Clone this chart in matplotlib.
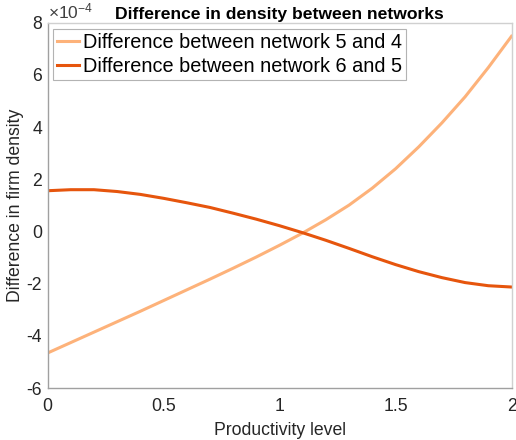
import numpy as np
import matplotlib
matplotlib.use("Agg")
import matplotlib.pyplot as plt
from matplotlib.ticker import FuncFormatter, MultipleLocator

plt.rcParams['font.family'] = ['Liberation Sans', 'DejaVu Sans']
plt.rcParams['mathtext.fontset'] = 'custom'
plt.rcParams['mathtext.rm'] = 'Liberation Sans'
plt.rcParams['mathtext.it'] = 'Liberation Sans'

x = [0.0, 0.1, 0.2, 0.3, 0.4, 0.5, 0.6, 0.7, 0.8, 0.9, 1.0,
     1.1, 1.2, 1.3, 1.4, 1.5, 1.6, 1.7, 1.8, 1.9, 2.0]
# values in units of 1e-4
diff_5_4 = [-4.66, -4.26, -3.86, -3.46, -3.06, -2.65, -2.24, -1.83, -1.41, -0.98, -0.53,
            -0.06, 0.45, 1.01, 1.66, 2.40, 3.24, 4.16, 5.16, 6.28, 7.48]
diff_6_5 = [1.56, 1.60, 1.60, 1.53, 1.42, 1.27, 1.10, 0.92, 0.70, 0.47, 0.22,
            -0.05, -0.34, -0.65, -0.97, -1.27, -1.54, -1.77, -1.96, -2.08, -2.13]
labels = ["Difference between network 5 and 4", "Difference between network 6 and 5"]
colors = ["#FDB27A", "#E6550D"]
scale = 1e-4

fig = plt.figure(figsize=(5.16, 4.40), dpi=100)
ax = fig.add_axes([47.5/516, 1-388/440, 464/516, (388-22.7)/440])

ax.plot(x, np.array(diff_5_4)*scale, color=colors[0], lw=2.2, label=labels[0],
        solid_joinstyle="round")
ax.plot(x, np.array(diff_6_5)*scale, color=colors[1], lw=2.2, label=labels[1],
        solid_joinstyle="round")

ax.set_xlim(0, 2)
ax.set_ylim(-6e-4, 8e-4)
ax.xaxis.set_major_locator(MultipleLocator(0.5))
ax.yaxis.set_major_locator(MultipleLocator(2e-4))
ax.xaxis.set_major_formatter(FuncFormatter(lambda v, p: f"{v:g}"))
ax.yaxis.set_major_formatter(FuncFormatter(lambda v, p: f"{round(v/scale):d}"))
ax.tick_params(length=0, labelsize=12.7, colors="#262626")
ax.tick_params(axis="x", pad=7)
ax.tick_params(axis="y", pad=4)

for s in ["left", "bottom"]:
    ax.spines[s].set_color("#A0A0A0")
for s in ["top", "right"]:
    ax.spines[s].set_color("#D0D0D0")
for s in ax.spines.values():
    s.set_linewidth(1.0)

ax.set_xlabel("Productivity level", fontsize=12.7, color="#262626", labelpad=5)
ax.set_ylabel("Difference in firm density", fontsize=12.7, color="#262626", labelpad=2)
ax.set_title("Difference in density between networks", fontsize=12.6, fontweight="bold",
             pad=3)
ax.text(0.0, 1.003, r"$\times10^{-4}$", transform=ax.transAxes, fontsize=12.5,
        color="#404040", ha="left", va="bottom")

leg = ax.legend(loc="upper left", fontsize=14.3, frameon=True, fancybox=False,
                handlelength=1.1, handletextpad=0.2, borderpad=0.2,
                labelspacing=0.25, borderaxespad=0.3)
leg.get_frame().set_edgecolor("#A0A0A0")
leg.get_frame().set_linewidth(0.8)

fig.savefig("out.png", dpi=100)
